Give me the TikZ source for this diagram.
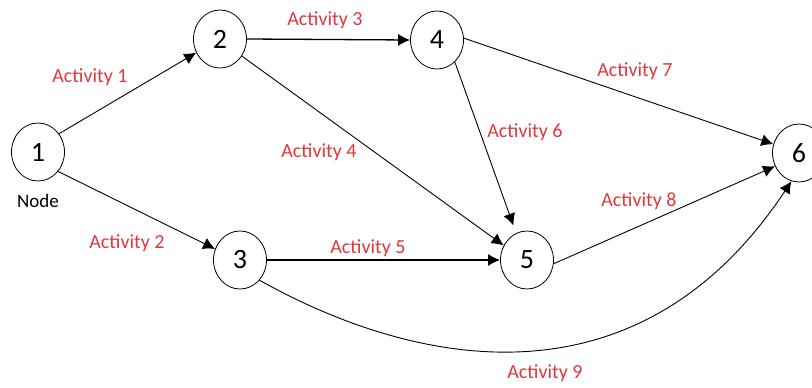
\documentclass[tikz,border=0pt]{standalone}
\usepackage{fontspec}
\setmainfont{Carlito}
\usetikzlibrary{shapes.geometric,arrows.meta}
\definecolor{actred}{RGB}{226,56,60}
\tikzset{
  event/.style={ellipse, draw, line width=0.8pt, minimum width=53pt, minimum height=58pt,
    inner sep=0pt, font=\fontsize{28}{30}\selectfont},
  act/.style={-{Latex[length=12pt,width=12pt]}, line width=0.9pt},
  actlabel/.style={text=actred, font=\fontsize{20}{22}\selectfont, inner sep=0pt},
}
\begin{document}
\begin{tikzpicture}[x=1pt, y=-1pt]
  \useasboundingbox (0,0) rectangle (812,388);
  \fill[white] (0,0) rectangle (812,388);

  % events
  \node[event] (n1) at (38,152) {1};
  \node[event] (n2) at (220,39) {2};
  \node[event] (n3) at (240,260) {3};
  \node[event] (n4) at (437,40) {4};
  \node[event] (n5) at (527,260) {5};
  \node[event] (n6) at (799,153) {6};
  \node[font=\fontsize{19}{21}\selectfont, inner sep=0pt] (lbl) at (38,201) {Node};

  % activities
  \draw[act] (n1.41) -- (n2.210);
  \draw[act] (n1.-44) -- (n3.156);
  \draw[act, line width=1.3pt] (n2.0) -- (n4.180);
  \draw[act] (n2.-38) -- (n5.148);
  \draw[act, shorten >=8pt] (n4.-51) -- (n5.112);
  \draw[act, line width=1.3pt] (n3.0) -- (n5.180);
  \draw[act] (n4.4) -- (n6.161);
  \draw[act] (n5.-8) -- (n6.209);
  \draw[act] (n3.-46) .. controls (420,370) and (640,410) .. (n6.255);

  % activity labels
  \node[actlabel] (a1) at (90,77) {Activity 1};
  \node[actlabel] (a2) at (127,243) {Activity 2};
  \node[actlabel] (a3) at (325,20) {Activity 3};
  \node[actlabel] (a4) at (319,152) {Activity 4};
  \node[actlabel] (a5) at (368,248) {Activity 5};
  \node[actlabel] (a6) at (525,132) {Activity 6};
  \node[actlabel] (a7) at (635,71) {Activity 7};
  \node[actlabel] (a8) at (639,201) {Activity 8};
  \node[actlabel] (a9) at (545,373) {Activity 9};
\end{tikzpicture}
\end{document}
